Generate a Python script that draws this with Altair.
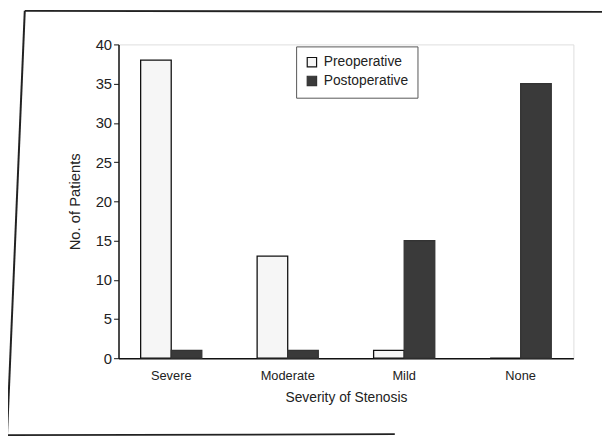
import altair as alt
import pandas as pd

categories = ["Severe", "Moderate", "Mild", "None"]
phases = ["Preoperative", "Postoperative"]
preoperative = [38, 13, 1, 0]
postoperative = [1, 1, 15, 35]

rows = []
for c, a, b in zip(categories, preoperative, postoperative):
    rows.append({"severity": c, "phase": "Preoperative", "count": a})
    rows.append({"severity": c, "phase": "Postoperative", "count": b})
df = pd.DataFrame(rows)

FONT = "Liberation Sans Narrow, Liberation Sans, Arial, sans-serif"

bars = alt.Chart(df).mark_bar(strokeWidth=1.3).encode(
    x=alt.X(
        "severity:N",
        sort=categories,
        scale=alt.Scale(paddingInner=0.475, paddingOuter=0.19),
        axis=alt.Axis(
            title="Severity of Stenosis", labelAngle=0, ticks=False,
            domainColor="#111", domainWidth=1.5, labelFontSize=13, titleFontSize=14,
            labelPadding=12, titlePadding=8, titleFontWeight="normal",
            labelColor="#222", titleColor="#222",
        ),
    ),
    xOffset=alt.XOffset("phase:N", sort=phases,
                        scale=alt.Scale(paddingInner=0, paddingOuter=0)),
    y=alt.Y(
        "count:Q",
        scale=alt.Scale(domain=[0, 40]),
        axis=alt.Axis(
            title="No. of Patients", values=list(range(0, 41, 5)), grid=False,
            domainColor="#111", domainWidth=1.5, tickColor="#111", tickSize=5,
            labelFontSize=15, titleFontSize=15, titleFontWeight="normal",
            labelPadding=2, titlePadding=13, labelColor="#222", titleColor="#222",
        ),
    ),
    fill=alt.Fill(
        "phase:N",
        scale=alt.Scale(domain=phases, range=["#f6f6f6", "#3a3a3a"]),
        legend=alt.Legend(
            title=None, orient="none", legendX=180, legendY=2,
            strokeColor="#555", fillColor="white", padding=9,
            symbolType="square", symbolSize=90, symbolStrokeColor="#111",
            symbolStrokeWidth=1.2, labelFontSize=14, rowPadding=3,
            labelColor="#222", labelOffset=5,
        ),
    ),
    stroke=alt.Stroke(
        "phase:N",
        scale=alt.Scale(domain=phases, range=["#111111", "#333333"]),
        legend=None,
    ),
)

frame_src = alt.Chart(pd.DataFrame({"k": [0]}))
top_line = frame_src.mark_rule(color="#222", strokeWidth=2).encode(
    x=alt.value(-95), x2=alt.value(490), y=alt.value(-34), y2=alt.value(-33))
left_line = frame_src.mark_rule(color="#222", strokeWidth=2).encode(
    x=alt.value(-95), x2=alt.value(-113), y=alt.value(-34), y2=alt.value(396))
bottom_line = frame_src.mark_rule(color="#222", strokeWidth=1.8).encode(
    x=alt.value(-113), x2=alt.value(280), y=alt.value(396), y2=alt.value(395))

chart = alt.layer(bars, top_line, left_line, bottom_line).properties(
    width=461, height=318,
    autosize=alt.AutoSizeParams(type="none"),
    padding={"left": 112, "top": 34, "right": 29, "bottom": 81},
    background="white",
).configure_view(stroke=None).configure(font=FONT)

chart.save("out.html", embed_options={"renderer": "svg", "actions": False})
